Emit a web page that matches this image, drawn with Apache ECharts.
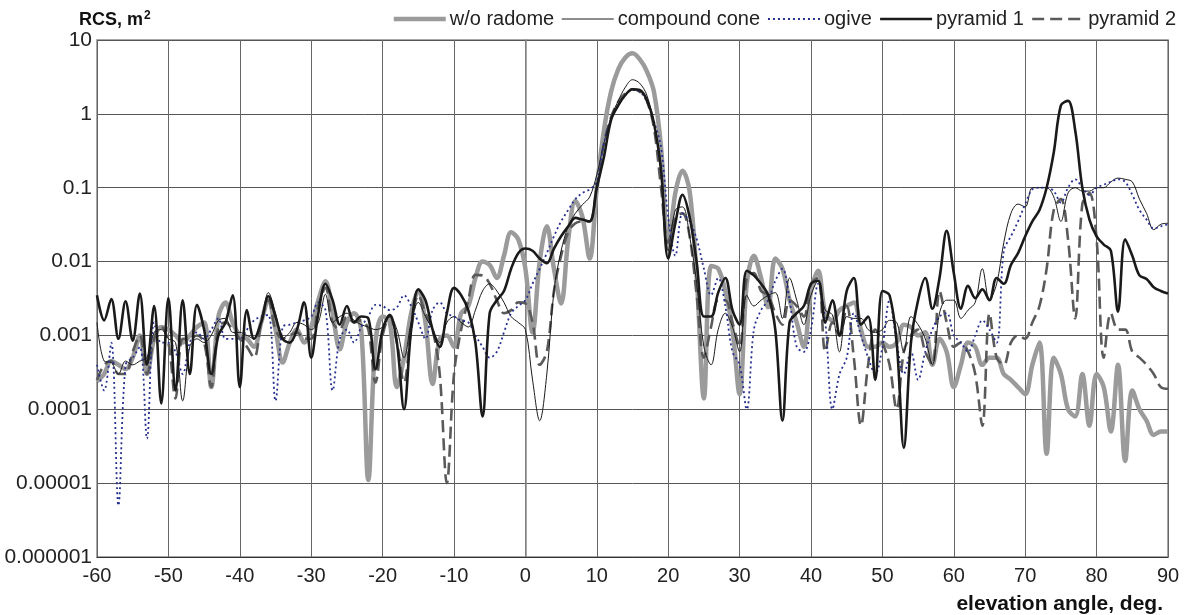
<!DOCTYPE html>
<html>
<head>
<meta charset="utf-8">
<script src="https://cdn.jsdelivr.net/npm/echarts@6/dist/echarts.min.js"></script>
<style>
html,body{margin:0;padding:0;background:#fff;}
#chart{width:1189px;height:615px;}
</style>
</head>
<body>
<div id="chart"></div>
<script>
// elevation angle, deg. (-60 ... 90, step 1)
const angles = [];
for (let a = -60; a <= 90; a++) angles.push(a);

const seriesNames = ['w/o radome', 'compound cone', 'ogive', 'pyramid 1', 'pyramid 2'];
const xTickLabels = ['-60','-50','-40','-30','-20','-10','0','10','20','30','40','50','60','70','80','90'];
const yTickLabels = {'1':'10','0':'1','-1':'0.1','-2':'0.01','-3':'0.001','-4':'0.0001','-5':'0.00001','-6':'0.000001'};

// RCS, m^2
const woRadome = [
  0.00024,0.0003,0.00045,0.0004,0.00035,0.0005,0.001,0.0003,0.0009,0.0013,0.0012,0.001,0.0008,0.001,0.0013,0.0015,0.0002,0.0018,0.0028,0.0015,0.001,0.0009,0.0007,0.0015,0.003,0.0012,0.00043,0.0008,0.0012,0.0008,0.0013,
  0.003,0.0054,0.002,0.00065,0.0015,0.002,0.0012,0.000011,0.0008,0.0018,0.0015,0.0002,0.0005,0.002,0.004,0.0015,0.00022,0.0009,0.001,0.0007,0.002,0.0025,0.006,0.01,0.009,0.006,0.012,0.025,0.02,0.008,
  0.0011,0.01,0.03,0.008,0.0027,0.02,0.066,0.04,0.011,0.1,0.6,2.0,4,5.8,6.6,5.5,3.8,2.0,0.35,0.016,0.085,0.17,0.09,0.006,0.00014,0.0087,0.008,0.004,0.0012,0.00016,
  0.005,0.012,0.006,0.0024,0.011,0.008,0.003,0.0015,0.0007,0.004,0.0075,0.002,0.0016,0.0022,0.0025,0.0028,0.0012,0.0007,0.0007,0.0008,0.0007,0.0008,0.0014,0.0013,0.001,0.0011,0.0004,0.0009,0.0006,0.0002,
  0.0004,0.0008,0.0007,0.0004,0.0005,0.0005,0.0003,0.00025,0.0002,0.00016,0.0004,0.0008,0.000025,0.0005,0.0003,0.0001,0.00008,0.0003,0.00006,0.0003,0.0002,0.00005,0.0004,0.00002,0.00018,0.0001,0.00007,0.000045,0.00005,0.00005
];
const compoundCone = [
  0.0015,0.00045,0.00043,0.0003,0.00045,0.0004,0.00045,0.0005,0.0011,0.0012,0.0009,0.0008,0.00013,0.0007,0.0009,0.0008,0.001,0.0016,0.0017,0.0011,0.0011,0.001,0.0009,0.0015,0.0038,0.002,0.0009,0.0011,0.0015,0.0014,0.0012,
  0.0015,0.0036,0.0015,0.0018,0.002,0.0016,0.0014,0.0013,0.0012,0.0013,0.0018,0.0012,0.0005,0.0015,0.0028,0.0018,0.0012,0.0008,0.0015,0.0018,0.0015,0.0013,0.0022,0.004,0.005,0.004,0.0028,0.0018,0.0015,0.0012,
  0.00025,0.00007,0.0003,0.004,0.014,0.03,0.045,0.059,0.075,0.15,0.4,0.9,1.5,2.3,2.9,2.6,1.8,0.75,0.2,0.014,0.05,0.055,0.022,0.005,0.0007,0.0004,0.0012,0.002,0.0013,0.0006,
  0.0035,0.0025,0.003,0.0035,0.0038,0.0017,0.006,0.003,0.0014,0.0035,0.0055,0.0022,0.0019,0.0006,0.0018,0.0017,0.0017,0.0012,0.0011,0.0012,0.0016,0.0015,0.0006,0.0018,0.0014,0.0009,0.0004,0.002,0.003,0.003,
  0.0017,0.0022,0.0028,0.008,0.003,0.005,0.018,0.045,0.06,0.055,0.1,0.1,0.1,0.075,0.035,0.085,0.1,0.09,0.09,0.1,0.1,0.12,0.135,0.13,0.12,0.07,0.045,0.027,0.032,0.033
];
const ogive = [
  0.0004,0.00018,0.0008,0.000005,0.0004,0.0005,0.0007,0.00004,0.0015,0.0008,0.0008,0.0006,0.0003,0.0008,0.0011,0.0009,0.0012,0.0017,0.0009,0.0009,0.0009,0.0012,0.0016,0.0018,0.0019,0.00013,0.0013,0.0014,0.0015,0.0016,0.0018,
  0.0028,0.0022,0.00018,0.0009,0.0012,0.0008,0.0013,0.0018,0.0026,0.0025,0.0022,0.0024,0.0035,0.0025,0.0015,0.0009,0.0022,0.0028,0.002,0.0018,0.0016,0.0015,0.001,0.0007,0.0005,0.0006,0.0011,0.002,0.0025,0.003,
  0.005,0.008,0.013,0.022,0.035,0.05,0.07,0.085,0.095,0.12,0.4,0.85,1.3,1.8,2.1,2.0,1.5,0.8,0.35,0.04,0.012,0.045,0.035,0.02,0.008,0.0035,0.006,0.0025,0.0006,0.0004,
  0.0001,0.0012,0.0022,0.003,0.0055,0.008,0.003,0.0007,0.0006,0.0012,0.005,0.0015,0.0001,0.0003,0.0005,0.002,0.001,0.0005,0.0003,0.0007,0.003,0.0008,0.0003,0.0006,0.00025,0.0006,0.0012,0.0018,0.002,0.001,
  0.0008,0.0006,0.001,0.0016,0.0012,0.0008,0.014,0.022,0.035,0.06,0.095,0.1,0.1,0.09,0.063,0.1,0.13,0.1,0.08,0.1,0.11,0.12,0.13,0.12,0.08,0.05,0.037,0.028,0.03,0.032
];
const pyramid1 = [
  0.0035,0.0016,0.0031,0.0009,0.0029,0.00085,0.0037,0.0004,0.0025,0.00012,0.0032,0.00018,0.003,0.0003,0.0026,0.0012,0.0003,0.001,0.0015,0.0035,0.0002,0.0022,0.0009,0.0015,0.0034,0.0018,0.0009,0.0008,0.0012,0.0028,0.0005,
  0.002,0.005,0.003,0.0014,0.0025,0.0015,0.0018,0.0017,0.00035,0.0012,0.0019,0.0008,0.0001,0.0012,0.0042,0.003,0.0012,0.0007,0.002,0.0044,0.0035,0.0022,0.0008,0.00008,0.002,0.003,0.004,0.008,0.013,0.015,
  0.014,0.011,0.0095,0.015,0.022,0.03,0.039,0.037,0.035,0.1,0.26,0.83,1.3,1.8,2.15,2.1,1.55,0.75,0.17,0.011,0.033,0.08,0.04,0.0095,0.0018,0.0018,0.0038,0.006,0.0022,0.0014,
  0.0075,0.0065,0.005,0.0035,0.0012,0.00007,0.0015,0.002,0.0025,0.005,0.0055,0.0015,0.003,0.001,0.004,0.006,0.0014,0.0018,0.00025,0.004,0.0035,0.0008,0.00003,0.0008,0.003,0.006,0.0023,0.006,0.026,0.007,
  0.0023,0.0047,0.0032,0.0042,0.003,0.006,0.005,0.009,0.013,0.022,0.035,0.05,0.1,0.3,1.3,1.5,0.6,0.1,0.037,0.022,0.017,0.014,0.0021,0.02,0.012,0.0065,0.0058,0.0045,0.004,0.0037
];
const pyramid2 = [
  0.00025,0.0004,0.00045,0.0003,0.0003,0.0006,0.001,0.0003,0.0009,0.0013,0.0008,0.00014,0.0009,0.0009,0.001,0.0008,0.0002,0.0013,0.0015,0.0012,0.0009,0.0007,0.0005,0.0015,0.003,0.0012,0.0009,0.001,0.0011,0.0009,0.0009,
  0.0025,0.0044,0.0015,0.0012,0.0018,0.0015,0.0016,0.0012,0.00023,0.001,0.0018,0.0008,0.00023,0.0012,0.0035,0.002,0.0012,0.0003,0.00001,0.0003,0.0012,0.003,0.0066,0.0065,0.005,0.003,0.002,0.0022,0.0028,0.0027,
  0.0015,0.0004,0.0006,0.004,0.012,0.025,0.033,0.035,0.035,0.1,0.4,0.9,1.45,1.9,2.15,2.0,1.5,0.65,0.1,0.018,0.04,0.045,0.022,0.0034,0.0005,0.0013,0.003,0.003,0.0015,0.0007,
  0.006,0.007,0.004,0.0035,0.002,0.0014,0.003,0.0025,0.0018,0.005,0.006,0.0006,0.0015,0.001,0.0025,0.0005,0.00006,0.0004,0.0012,0.0008,0.0004,0.0001,0.0006,0.001,0.0012,0.0006,0.0004,0.004,0.0015,0.0007,
  0.0008,0.0006,0.0003,0.00006,0.002,0.0005,0.0004,0.0008,0.001,0.0009,0.0015,0.0025,0.008,0.05,0.07,0.02,0.0017,0.06,0.085,0.02,0.0005,0.002,0.0012,0.0012,0.0006,0.0005,0.0004,0.0003,0.0002,0.00019
];

function pairs(vals){ return angles.map((a,i)=>[a, vals[i]]); }

const FONT = "'Liberation Sans', Arial, sans-serif";
const chart = echarts.init(document.getElementById('chart'), null, {renderer:'canvas'});
const styles = [
  {color:'#9b9b9b', width:4.5, type:'solid', z:1},
  {color:'#1a1a1a', width:1, type:'solid', z:3},
  {color:'#26308f', width:1.8, type:[2,3], z:4},
  {color:'#1a1a1a', width:2.6, type:'solid', z:5},
  {color:'#5a5a5a', width:2.6, type:[12,6], z:2}
];
const dataSets = [woRadome, compoundCone, ogive, pyramid1, pyramid2];

chart.setOption({
  animation:false,
  backgroundColor:'#fff',
  textStyle:{fontFamily:FONT},
  title:[
    {text:'{a|RCS, m}{b|2}', left:74, top:5,
     textStyle:{rich:{
       a:{fontFamily:FONT, fontSize:18, fontWeight:'bold', color:'#111'},
       b:{fontFamily:FONT, fontSize:12, fontWeight:'bold', color:'#111', verticalAlign:'top', padding:[0,0,8,1]}
     }}},
    {text:'elevation angle, deg.', right:21, top:589, textStyle:{fontFamily:FONT, fontSize:21, fontWeight:'bold', color:'#111'}}
  ],
  legend:{
    right:8, top:4, itemWidth:52, itemHeight:10, itemGap:7,
    itemStyle:{opacity:0},
    textStyle:{fontFamily:FONT, fontSize:20, color:'#222', padding:[0,0,0,-1]},
    data: seriesNames.map((n,i)=>({
      name:n,
      lineStyle:{width:styles[i].width, type:styles[i].type, color:styles[i].color}
    }))
  },
  grid:{left:97, right:21, top:40, bottom:58, show:true, borderColor:'#8a8a8a', borderWidth:1.5, containLabel:false},
  xAxis:{
    type:'value', min:-60, max:90, interval:10,
    axisLine:{show:true, onZero:false, lineStyle:{color:'#333', width:1}},
    axisTick:{show:false},
    splitLine:{show:true, lineStyle:{color:'#666', width:1}},
    axisLabel:{fontFamily:FONT, fontSize:20, color:'#222', margin:9,
      formatter:function(v){ const i = Math.round((v+60)/10); return xTickLabels[i] !== undefined ? xTickLabels[i] : ''; }}
  },
  yAxis:{
    type:'log', logBase:10, min:0.000001, max:10,
    axisLine:{show:true, lineStyle:{color:'#8a8a8a', width:1.5}},
    axisTick:{show:false},
    minorTick:{show:false},
    splitLine:{show:true, lineStyle:{color:'#555', width:1}},
    axisLabel:{fontFamily:FONT, fontSize:21, color:'#222', margin:5,
      formatter:function(v){ const e = Math.round(Math.log10(v)); return yTickLabels[String(e)] || ''; }}
  },
  series: seriesNames.map((n,i)=>({
    name:n, type:'line', data:pairs(dataSets[i]), showSymbol:false, symbol:'none',
    smooth:0.35, z:styles[i].z,
    lineStyle:{color:styles[i].color, width:styles[i].width, type:styles[i].type},
    itemStyle:{color:styles[i].color}
  }))
});
</script>
</body>
</html>
